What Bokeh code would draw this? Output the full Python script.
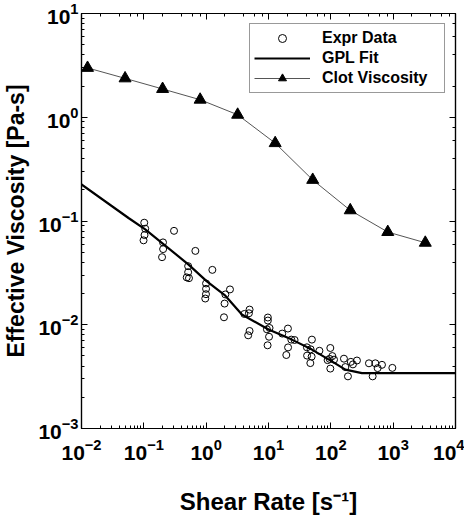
from bokeh.plotting import figure
from bokeh.models import LogAxis, CustomJSTickFormatter, Legend, LegendItem
from bokeh.embed import file_html
from bokeh.resources import INLINE

# Experimental data (shear rate [1/s], effective viscosity [Pa-s])
expr_rate = [0.1015, 0.1053, 0.1026, 0.0989, 0.305, 0.203, 0.204, 0.196, 0.671, 0.514,
             0.514, 0.488, 0.530, 1.257, 0.996, 0.996, 0.993, 0.967, 2.41, 2.03,
             1.974, 1.931, 4.10, 4.97, 4.85, 4.97, 4.72, 9.77, 9.77, 10.4,
             9.43, 10.2, 9.67, 20.5, 16.6, 23.2, 26.2, 20.6, 19.3, 49.7,
             41.3, 47.4, 65.6, 41.6, 49.2, 46.9, 98.1, 105.7, 95.6, 112.5,
             88.8, 98.1, 162.3, 209.4, 262.3, 226.2, 170.9, 188.2, 408.9, 517.8,
             661.0, 563.8, 468.7, 970.5]
expr_visc = [0.0963, 0.0843, 0.0732, 0.0651, 0.0804, 0.0622, 0.0536, 0.0448, 0.0515, 0.0367,
             0.0321, 0.0286, 0.0281, 0.0338, 0.0250, 0.0222, 0.0197, 0.0179, 0.0219, 0.0196,
             0.0160, 0.0118, 0.0127, 0.0140, 0.0129, 0.00871, 0.00791, 0.01174, 0.01098, 0.00931,
             0.00904, 0.00766, 0.00634, 0.00919, 0.00822, 0.00719, 0.00713, 0.00605, 0.00511, 0.00719,
             0.00606, 0.00580, 0.00561, 0.00504, 0.00493, 0.00427, 0.00597, 0.00499, 0.00469, 0.00461,
             0.00456, 0.00378, 0.00471, 0.00439, 0.00452, 0.00415, 0.00391, 0.00318, 0.00425, 0.00425,
             0.00411, 0.00382, 0.00318, 0.00384]

# GPL fit curve
fit_rate = [0.01, 0.0568, 0.1053, 0.522, 1.015, 2.03, 3.74, 10.03, 23.7, 49.7,
            104.1, 170.9, 315.6, 10000.0]
fit_visc = [0.2252, 0.1069, 0.0832, 0.0380, 0.0263, 0.01906, 0.01255, 0.00899, 0.00719, 0.00576,
            0.00444, 0.00369, 0.00342, 0.00342]

# Clot viscosity
clot_rate = [0.0125, 0.05, 0.2, 0.8, 3.2, 12.8, 51.2, 204.8, 819.2, 3276.8]
clot_visc = [2.99, 2.37, 1.873, 1.476, 1.057, 0.563, 0.249, 0.1268, 0.0783, 0.0617]

FONT = "Liberation Sans"

p = figure(frame_width=374, frame_height=415,
           x_axis_type="log", y_axis_type="log",
           x_range=(1e-2, 1e4), y_range=(1e-3, 1e1),
           output_backend="svg", toolbar_location=None,
           min_border_left=70, min_border_right=9,
           min_border_top=13, min_border_bottom=70)

p.xgrid.visible = False
p.ygrid.visible = False
p.outline_line_color = "black"
p.outline_line_width = 1.2

r_expr = p.scatter(expr_rate, expr_visc, marker="circle", size=7,
                   fill_color=None, line_color="black", line_width=1)
r_fit = p.line(fit_rate, fit_visc, line_color="black", line_width=2.2)
r_clot_line = p.line(clot_rate, clot_visc, line_color="#555555", line_width=1)
r_clot = p.scatter(clot_rate, clot_visc, marker="triangle", size=12,
                   fill_color="black", line_color="black")

for ax in (p.xaxis[0], p.yaxis[0]):
    ax.major_tick_in = 6
    ax.major_tick_out = 0
    ax.minor_tick_in = 3
    ax.minor_tick_out = 0
    ax.axis_line_color = "black"
    ax.axis_line_width = 1.2
    ax.major_label_text_font = FONT
    ax.major_label_text_font_style = "bold"
    ax.major_label_text_font_size = "21px"
    ax.major_label_text_color = "black"
    ax.axis_label_text_font = FONT
    ax.axis_label_text_font_style = "bold"
    ax.axis_label_text_color = "black"

p.xaxis[0].axis_label = "Shear Rate [s\u207b\u00b9]"
p.xaxis[0].axis_label_text_font_size = "24px"
p.xaxis[0].major_label_standoff = 10
p.xaxis[0].axis_label_standoff = 25

p.yaxis[0].axis_label = "Effective Viscosity [Pa-s]"
p.yaxis[0].axis_label_text_font_size = "23px"
p.yaxis[0].major_label_standoff = 3
p.yaxis[0].axis_label_standoff = 6

blank = CustomJSTickFormatter(code="return ''")
for loc in ("right", "above"):
    ax = LogAxis(formatter=blank)
    ax.major_tick_in = 6
    ax.major_tick_out = 0
    ax.minor_tick_in = 3
    ax.minor_tick_out = 0
    ax.major_label_standoff = 0
    ax.major_label_text_font_size = "1px"
    ax.axis_line_color = "black"
    ax.axis_line_width = 1.2
    p.add_layout(ax, loc)

legend = Legend(items=[
    LegendItem(label="Expr Data", renderers=[r_expr]),
    LegendItem(label="GPL Fit", renderers=[r_fit]),
    LegendItem(label="Clot Viscosity", renderers=[r_clot_line, r_clot]),
], location="top_right")
legend.margin = 10
legend.padding = 4
legend.spacing = 0
legend.glyph_width = 56
legend.glyph_height = 20
legend.label_height = 20
legend.label_width = 118
legend.label_standoff = 12
legend.label_text_font = FONT
legend.label_text_font_style = "bold"
legend.label_text_font_size = "16px"
legend.label_text_color = "black"
legend.border_line_color = "#333333"
legend.border_line_width = 1
legend.background_fill_alpha = 1
p.add_layout(legend)

open("out.html", "w").write(file_html(p, INLINE))
